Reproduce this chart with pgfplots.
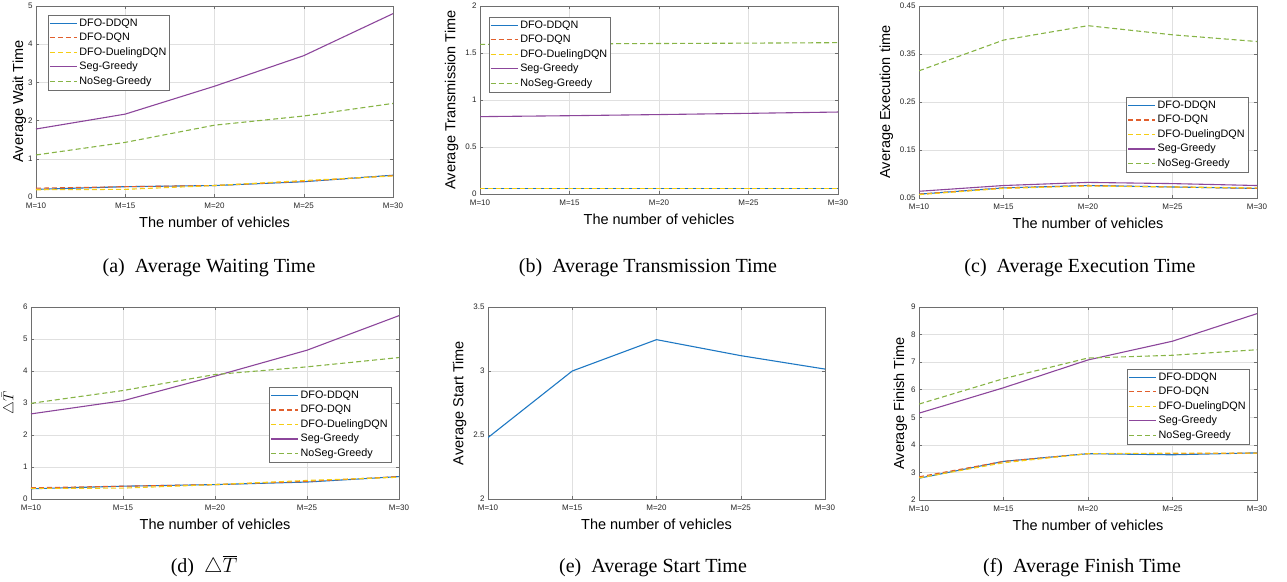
\documentclass[border=0pt]{standalone}
\usepackage{pgfplots}
\pgfplotsset{compat=1.18}
\usepackage{fontspec}
\setmainfont{Liberation Serif}
\newfontfamily\arial{Liberation Sans}
\definecolor{mblue}{RGB}{30,120,195}
\definecolor{morange}{RGB}{225,95,45}
\definecolor{myellow}{RGB}{245,205,20}
\definecolor{mpurple}{RGB}{140,70,155}
\definecolor{mgreen}{RGB}{135,180,70}
\definecolor{axc}{RGB}{110,110,110}
\pgfplotsset{
  mat/.style={
    scale only axis, anchor=north west,
    xmin=10, xmax=30, xtick={10,15,20,25,30},
    xticklabels={M=10,M=15,M=20,M=25,M=30},
    grid=major, major grid style={line width=0.5pt, black!12},
    axis line style={axc, line width=0.6pt}, tick style={axc, line width=0.5pt},
    tick align=inside, major tick length=3pt,
    /pgf/number format/assume math mode=true,
    tick label style={font=\arial\fontsize{8}{9}\selectfont, text=black!85},
    xticklabel style={yshift=-2pt},
    label style={font=\arial\fontsize{14.5}{16}\selectfont},
    xlabel={The number of vehicles},
    xlabel style={yshift=-2pt},
    scaled ticks=false,
    legend cell align=left,
    legend image code/.code={\draw[##1] (0pt,0pt) -- (27pt,0pt);},
    legend style={font=\arial\fontsize{10.8}{12}\selectfont, draw=none, fill=white,
      inner sep=1pt, row sep=0pt,
      nodes={text height=8pt, text depth=2.5pt, inner sep=2pt}},
  },
  sB/.style={draw=mblue, line width=1.1pt, solid},
  sO/.style={draw=morange, line width=1.1pt, dash pattern=on 5pt off 3pt},
  sY/.style={draw=myellow, line width=1.1pt, dash pattern=on 5pt off 3pt},
  sP/.style={draw=mpurple, line width=1.1pt, solid},
  sG/.style={draw=mgreen, line width=1.1pt, dash pattern=on 5pt off 3pt},
}
\begin{document}
\begin{tikzpicture}
\useasboundingbox (0,0) rectangle (1287pt,-581pt);
% (a)
\begin{axis}[mat, at={(36pt,-6pt)}, width=357pt, height=191pt,
  ymin=0, ymax=5, ytick={0,1,2,3,4,5}, ylabel={Average Wait Time},
  ylabel style={yshift=-5pt},
  legend style={at={(0.034,0.953)}, anchor=north west, name=legA}]
\addplot[sB] coordinates {(10,0.20)(15,0.27)(20,0.30)(25,0.40)(30,0.57)};
\addplot[sO] coordinates {(10,0.23)(15,0.27)(20,0.30)(25,0.41)(30,0.56)};
\addplot[sY] coordinates {(10,0.19)(15,0.20)(20,0.30)(25,0.43)(30,0.55)};
\addplot[sP] coordinates {(10,1.78)(15,2.17)(20,2.90)(25,3.70)(30,4.80)};
\addplot[sG] coordinates {(10,1.10)(15,1.43)(20,1.88)(25,2.12)(30,2.45)};
\legend{DFO-DDQN,DFO-DQN,DFO-DuelingDQN,Seg-Greedy,NoSeg-Greedy}
\end{axis}
\draw[axc, line width=0.6pt] (legA.south west) rectangle (legA.north east);
% (b)
\begin{axis}[mat, at={(480pt,-6pt)}, width=358pt, height=188pt,
  ymin=0, ymax=2, ytick={0,0.5,1,1.5,2}, yticklabels={0,0.5,1,1.5,2},
  ylabel={Average Transmission Time},
  legend style={at={(0.025,0.942)}, anchor=north west, name=legB}]
\addplot[sB] coordinates {(10,0.055)(15,0.055)(20,0.055)(25,0.055)(30,0.055)};
\addplot[sO] coordinates {(10,0.058)(15,0.058)(20,0.058)(25,0.058)(30,0.058)};
\addplot[sY] coordinates {(10,0.062)(15,0.062)(20,0.062)(25,0.062)(30,0.062)};
\addplot[sP] coordinates {(10,0.823)(15,0.833)(20,0.845)(25,0.858)(30,0.872)};
\addplot[sG] coordinates {(10,1.592)(15,1.597)(20,1.601)(25,1.605)(30,1.610)};
\legend{DFO-DDQN,DFO-DQN,DFO-DuelingDQN,Seg-Greedy,NoSeg-Greedy}
\end{axis}
\draw[axc, line width=0.6pt] (legB.south west) rectangle (legB.north east);
% (c)
\begin{axis}[mat, at={(919pt,-6pt)}, width=338pt, height=192pt,
  ymin=0.05, ymax=0.45, ytick={0.05,0.15,0.25,0.35,0.45},
  yticklabels={0.05,0.15,0.25,0.35,0.45},
  ylabel={Average Execution time},
  legend style={at={(0.973,0.526)}, anchor=north east, name=legC}]
\addplot[sB] coordinates {(10,0.058)(15,0.071)(20,0.076)(25,0.073)(30,0.070)};
\addplot[sO] coordinates {(10,0.058)(15,0.071)(20,0.076)(25,0.073)(30,0.070)};
\addplot[sY] coordinates {(10,0.057)(15,0.070)(20,0.075)(25,0.073)(30,0.071)};
\addplot[sP] coordinates {(10,0.064)(15,0.076)(20,0.0825)(25,0.080)(30,0.076)};
\addplot[sG] coordinates {(10,0.315)(15,0.379)(20,0.409)(25,0.390)(30,0.376)};
\legend{DFO-DDQN,DFO-DQN,DFO-DuelingDQN,Seg-Greedy,NoSeg-Greedy}
\end{axis}
\draw[axc, line width=0.6pt] (legC.south west) rectangle (legC.north east);
% (d)
\begin{axis}[mat, at={(31pt,-307pt)}, width=368pt, height=192pt,
  ymin=0, ymax=6, ytick={0,1,2,3,4,5,6}, ylabel={$\triangle\bar{T}$},
  legend style={at={(0.978,0.583)}, anchor=north east, name=legD}]
\addplot[sB] coordinates {(10,0.32)(15,0.40)(20,0.45)(25,0.53)(30,0.70)};
\addplot[sO] coordinates {(10,0.35)(15,0.40)(20,0.45)(25,0.55)(30,0.70)};
\addplot[sY] coordinates {(10,0.33)(15,0.34)(20,0.45)(25,0.58)(30,0.68)};
\addplot[sP] coordinates {(10,2.66)(15,3.07)(20,3.84)(25,4.65)(30,5.73)};
\addplot[sG] coordinates {(10,2.99)(15,3.39)(20,3.89)(25,4.13)(30,4.42)};
\legend{DFO-DDQN,DFO-DQN,DFO-DuelingDQN,Seg-Greedy,NoSeg-Greedy}
\end{axis}
\draw[axc, line width=0.6pt] (legD.south west) rectangle (legD.north east);
% (e)
\begin{axis}[mat, at={(488pt,-307pt)}, width=337pt, height=192pt,
  ymin=2, ymax=3.5, ytick={2,2.5,3,3.5}, yticklabels={2,2.5,3,3.5},
  ylabel={Average Start Time}]
\addplot[sB] coordinates {(10,2.48)(15,3.00)(20,3.245)(25,3.12)(30,3.015)};
\end{axis}
% (f)
\begin{axis}[mat, at={(919pt,-307pt)}, width=338pt, height=193pt,
  ymin=2, ymax=9, ytick={2,3,4,5,6,7,8,9}, ylabel={Average Finish Time},
  ylabel style={yshift=-3pt},
  legend style={at={(0.976,0.679)}, anchor=north east, name=legF}]
\addplot[sB] coordinates {(10,2.79)(15,3.40)(20,3.68)(25,3.64)(30,3.71)};
\addplot[sO] coordinates {(10,2.84)(15,3.40)(20,3.68)(25,3.68)(30,3.70)};
\addplot[sY] coordinates {(10,2.80)(15,3.35)(20,3.68)(25,3.70)(30,3.70)};
\addplot[sP] coordinates {(10,5.15)(15,6.07)(20,7.08)(25,7.76)(30,8.76)};
\addplot[sG] coordinates {(10,5.48)(15,6.40)(20,7.15)(25,7.25)(30,7.45)};
\legend{DFO-DDQN,DFO-DQN,DFO-DuelingDQN,Seg-Greedy,NoSeg-Greedy}
\end{axis}
\draw[axc, line width=0.6pt] (legF.south west) rectangle (legF.north east);
% captions
\begin{scope}[every node/.style={font=\fontsize{20}{23}\selectfont, anchor=base, inner sep=0pt}]
\node at (209pt,-272pt) {(a)\ \ Average Waiting Time};
\node at (648pt,-272pt) {(b)\ \ Average Transmission Time};
\node at (1080pt,-272pt) {(c)\ \ Average Execution Time};
\node at (204pt,-572pt) {(d)\ \ $\triangle\overline{T}$};
\node at (653pt,-572pt) {(e)\ \ Average Start Time};
\node at (1082pt,-572pt) {(f)\ \ Average Finish Time};
\end{scope}
\end{tikzpicture}
\end{document}
